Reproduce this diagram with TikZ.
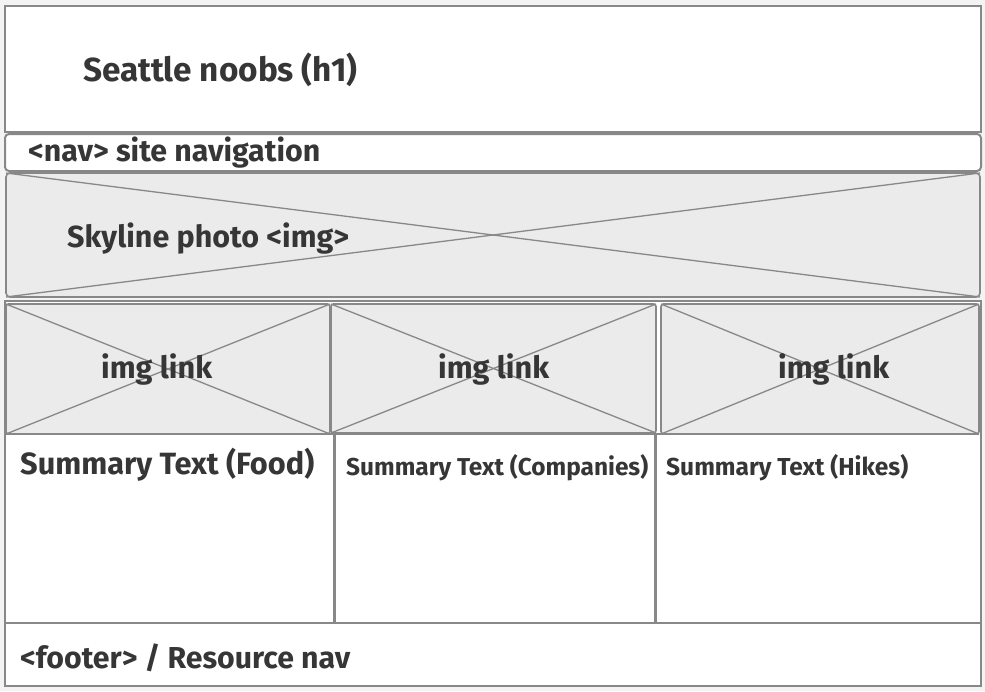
\documentclass[tikz,border=0pt]{standalone}
\usepackage{fontspec}
\usepackage{graphicx}
\setmainfont{Fira Sans}
\definecolor{bgc}{HTML}{F3F3F3}
\definecolor{linec}{HTML}{888888}
\definecolor{imgc}{HTML}{EBEBEB}
\definecolor{txtc}{HTML}{363636}
\tikzset{
  x=1pt, y=-1pt,
  frame/.style={draw=linec, line width=2pt, fill=white, inner sep=0pt, outer sep=0pt, anchor=north west},
  thickframe/.style={frame, line width=2.6pt},
  imgbox/.style={draw=linec, line width=1.6pt, fill=imgc, rounded corners=2.5pt, inner sep=0pt, outer sep=0pt, anchor=north west},
  cross/.style={draw=linec, line width=1.3pt},
  divider/.style={draw=linec, line width=3pt},
  lbl/.style={text=txtc, font=\bfseries, inner sep=0pt, anchor=west},
}
\newcommand{\fitw}[2]{\resizebox{#1pt}{!}{#2}}
\begin{document}
\begin{tikzpicture}
\fill[bgc] (0,0) rectangle (985,691);
\useasboundingbox (0,0) rectangle (985,691);
% header
\node[frame, minimum width=976pt, minimum height=126pt] (header) at (5,6) {};
% nav
\node[frame, rounded corners=4pt, minimum width=976pt, minimum height=37pt] (nav) at (5,134) {};
% skyline photo
\node[imgbox, rounded corners=4pt, minimum width=974pt, minimum height=124pt] (photo) at (6,173) {};
\draw[cross] (photo.north west) -- (photo.south east);
\draw[cross] (photo.south west) -- (photo.north east);
% middle region
\node[thickframe, minimum width=976pt, minimum height=322pt] (middle) at (5,301) {};
\node[imgbox, minimum width=324pt, minimum height=130pt] (img1) at (6,304) {};
\node[imgbox, minimum width=325pt, minimum height=129pt] (img2) at (331,304) {};
\node[imgbox, minimum width=318pt, minimum height=130pt] (img3) at (661,304) {};
\foreach \n in {img1,img2,img3}{
  \draw[cross] (\n.north west) -- (\n.south east);
  \draw[cross] (\n.south west) -- (\n.north east);
}
\coordinate (d1t) at (334,434); \coordinate (d1b) at (334,623);
\coordinate (d2t) at (655,434); \coordinate (d2b) at (655,623);
\draw[divider] (d1t) -- (d1b);
\draw[divider] (d2t) -- (d2b);
\draw[draw=linec, line width=1.6pt] (img1.south west) -- (img3.south east);
% footer
\node[thickframe, minimum width=976pt, minimum height=63pt] (footer) at (5,623) {};
% labels
\node[lbl] (th1) at (83,69.5) {\fitw{274}{Seattle noobs (h1)}};
\node[lbl] (tnav) at (28,152.5) {\fitw{292}{<nav> site navigation}};
\node[lbl] (tphoto) at (67,238.5) {\fitw{282}{Skyline photo <img>}};
\node[lbl] (ti1) at (101,369.5) {\fitw{111}{img link}};
\node[lbl] (ti2) at (438,369.5) {\fitw{111}{img link}};
\node[lbl] (ti3) at (778,369.5) {\fitw{111}{img link}};
\node[lbl] (ts1) at (20,464.5) {\fitw{294}{Summary Text (Food)}};
\node[lbl] (ts2) at (346,468) {\fitw{302}{Summary Text (Companies)}};
\node[lbl] (ts3) at (666,468) {\fitw{242}{Summary Text (Hikes)}};
\node[lbl] (tfoot) at (20,657.5) {\fitw{330}{<footer> / Resource nav}};
\end{tikzpicture}
\end{document}
